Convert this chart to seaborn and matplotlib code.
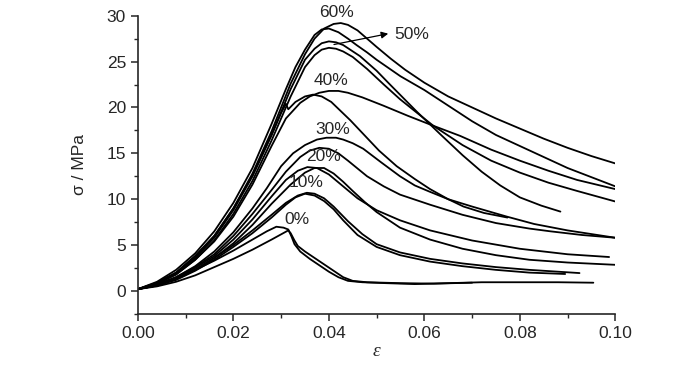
import matplotlib
matplotlib.use("Agg")
import matplotlib.pyplot as plt
from matplotlib.ticker import MultipleLocator
import seaborn as sns
import pandas as pd

# stress-strain curves, two per fibre content
eps_60a = [0, .004, .008, .012, .016, .020, .024, .028, .032, .035, .037, .039, .041, .0425, .044, .046, .048, .050, .053, .056, .060, .065, .070, .075, .080, .085, .090, .095, .100]
sig_60a = [0.2, 0.9, 2.0, 3.8, 6.0, 9.0, 12.8, 17.4, 22.6, 25.8, 27.5, 28.6, 29.1, 29.2, 29.0, 28.4, 27.5, 26.6, 25.3, 24.1, 22.7, 21.2, 20.0, 18.8, 17.7, 16.6, 15.6, 14.7, 13.9]

eps_60b = [0, .004, .008, .012, .016, .020, .024, .028, .031, .033, .035, .037, .0385, .040, .042, .044, .0458, .048, .050, .055, .060, .065, .070, .075, .080, .085, .090, .095, .100]
sig_60b = [0.2, 1.0, 2.3, 4.1, 6.5, 9.6, 13.4, 18.2, 22.0, 24.4, 26.3, 27.9, 28.5, 28.6, 28.2, 27.5, 26.8, 26.0, 25.2, 23.4, 21.9, 20.2, 18.5, 17.0, 15.8, 14.6, 13.4, 12.4, 11.4]

eps_50a = [0, .004, .008, .012, .016, .020, .024, .028, .032, .035, .037, .0385, .040, .0415, .043, .0465, .050, .0528, .0585, .0633, .068, .072, .0759, .080, .0845, .0885]
sig_50a = [0.2, 0.8, 1.9, 3.6, 5.8, 8.8, 12.5, 17.0, 22.0, 25.2, 26.4, 27.0, 27.2, 27.1, 26.8, 25.6, 24.0, 22.5, 19.5, 17.1, 14.8, 13.0, 11.5, 10.2, 9.3, 8.65]

eps_50b = [0, .004, .008, .012, .016, .020, .024, .028, .032, .035, .037, .0385, .040, .0415, .043, .045, .048, .0515, .0549, .0585, .0619, .068, .074, .080, .086, .092, .100]
sig_50b = [0.2, 0.8, 1.8, 3.4, 5.5, 8.4, 12.0, 16.4, 21.2, 24.4, 25.7, 26.3, 26.5, 26.4, 26.1, 25.5, 24.2, 22.5, 20.9, 19.4, 18.0, 15.9, 14.2, 12.9, 11.8, 10.9, 9.75]

eps_40a = [0, .004, .008, .012, .016, .020, .024, .028, .031, .034, .036, .038, .040, .042, .044, .047, .0514, .0565, .0619, .0675, .074, .080, .086, .092, .100]
sig_40a = [0.2, 0.8, 1.8, 3.4, 5.4, 8.1, 11.6, 15.8, 18.8, 20.5, 21.2, 21.6, 21.8, 21.8, 21.6, 21.1, 20.2, 19.1, 18.0, 16.9, 15.4, 14.2, 13.1, 12.1, 11.1]

eps_40b = [0, .004, .008, .012, .016, .020, .024, .028, .030, .031, .0315, .033, .035, .0367, .0385, .0405, .0425, .0445, .0465, .0505, .0542, .0580, .0612, .0650, .0682, .0725, .0774]
sig_40b = [0.2, 0.9, 2.0, 3.8, 6.0, 9.0, 12.6, 17.0, 19.4, 20.4, 19.8, 20.6, 21.2, 21.4, 21.2, 20.6, 19.6, 18.6, 17.5, 15.3, 13.6, 12.2, 11.1, 10.0, 9.2, 8.5, 8.0]

eps_30a = [0, .004, .008, .012, .016, .020, .024, .027, .030, .0325, .035, .0375, .0395, .0415, .043, .045, .0472, .051, .0549, .058, .0612, .065, .070, .0773, .083, .090, .095, .100]
sig_30a = [0.2, 0.7, 1.5, 2.7, 4.3, 6.4, 9.0, 11.2, 13.6, 15.0, 15.9, 16.5, 16.7, 16.7, 16.5, 16.1, 15.5, 14.0, 12.5, 11.5, 10.8, 10.0, 9.2, 8.1, 7.3, 6.6, 6.2, 5.8]

eps_30b = [0, .004, .008, .012, .016, .020, .024, .028, .031, .034, .036, .038, .040, .042, .044, .048, .0515, .0549, .0612, .068, .075, .082, .0864, .093, .100]
sig_30b = [0.2, 0.7, 1.5, 2.6, 4.0, 6.0, 8.4, 11.0, 13.0, 14.6, 15.3, 15.6, 15.5, 15.0, 14.2, 12.5, 11.4, 10.5, 9.4, 8.3, 7.4, 6.8, 6.5, 6.1, 5.8]

eps_20a = [0, .004, .008, .012, .016, .020, .024, .028, .031, .0335, .0355, .0375, .040, .043, .046, .050, .0549, .0612, .070, .080, .090, .0987]
sig_20a = [0.2, 0.6, 1.4, 2.5, 3.8, 5.6, 7.8, 10.3, 12.1, 13.1, 13.5, 13.4, 12.7, 11.4, 10.1, 8.8, 7.7, 6.6, 5.5, 4.6, 4.0, 3.7]

eps_20b = [0, .004, .008, .012, .016, .020, .024, .028, .032, .035, .037, .039, .041, .043, .045, .0475, .050, .0549, .0612, .068, .075, .082, .090, .100]
sig_20b = [0.2, 0.6, 1.3, 2.3, 3.6, 5.2, 7.2, 9.5, 11.6, 12.9, 13.4, 13.4, 12.8, 11.9, 10.9, 9.7, 8.6, 6.9, 5.6, 4.6, 3.9, 3.4, 3.1, 2.85]

eps_10a = [0, .004, .008, .012, .016, .020, .024, .028, .031, .0335, .0354, .037, .039, .041, .044, .047, .050, .0549, .0612, .068, .075, .082, .0925]
sig_10a = [0.2, 0.6, 1.3, 2.3, 3.6, 5.0, 6.6, 8.3, 9.6, 10.4, 10.7, 10.6, 10.1, 9.2, 7.6, 6.2, 5.1, 4.2, 3.5, 3.0, 2.6, 2.3, 1.95]

eps_10b = [0, .004, .008, .012, .016, .020, .024, .028, .031, .033, .035, .037, .039, .041, .043, .046, .050, .0549, .0612, .068, .075, .082, .0895]
sig_10b = [0.2, 0.6, 1.2, 2.2, 3.4, 4.8, 6.3, 8.0, 9.4, 10.2, 10.6, 10.4, 9.8, 8.9, 7.7, 6.1, 4.8, 3.9, 3.2, 2.7, 2.3, 2.0, 1.85]

eps_0a = [0, .004, .008, .012, .016, .020, .024, .027, .029, .0305, .0315, .0322, .0328, .034, .036, .038, .040, .042, .044, .047, .052, .058, .065, .072, .080, .088, .0954]
sig_0a = [0.2, 0.7, 1.4, 2.3, 3.3, 4.4, 5.6, 6.5, 7.0, 6.9, 6.7, 5.9, 5.1, 4.3, 3.5, 2.8, 2.1, 1.5, 1.1, 0.95, 0.85, 0.75, 0.85, 0.95, 0.95, 0.95, 0.9]

eps_0b = [0, .004, .008, .012, .016, .020, .024, .028, .0308, .0315, .032, .0328, .0335, .035, .037, .039, .041, .043, .045, .048, .055, .062, .070]
sig_0b = [0.2, 0.5, 1.0, 1.7, 2.6, 3.5, 4.5, 5.6, 6.4, 6.6, 6.3, 5.5, 4.9, 4.3, 3.6, 2.9, 2.2, 1.5, 1.1, 0.95, 0.85, 0.8, 0.9]

curves = {
    "60a": (eps_60a, sig_60a), "60b": (eps_60b, sig_60b),
    "50a": (eps_50a, sig_50a), "50b": (eps_50b, sig_50b),
    "40a": (eps_40a, sig_40a), "40b": (eps_40b, sig_40b),
    "30a": (eps_30a, sig_30a), "30b": (eps_30b, sig_30b),
    "20a": (eps_20a, sig_20a), "20b": (eps_20b, sig_20b),
    "10a": (eps_10a, sig_10a), "10b": (eps_10b, sig_10b),
    "0a": (eps_0a, sig_0a), "0b": (eps_0b, sig_0b),
}

labels = ["0%", "10%", "20%", "30%", "40%", "60%"]
label_eps = [0.0333, 0.0352, 0.0388, 0.0409, 0.0405, 0.0417]
label_sig = [7.8, 11.8, 14.6, 17.6, 22.9, 30.4]

rows = []
for name, (e, s) in curves.items():
    for x, y in zip(e, s):
        rows.append({"eps": x, "sigma": y, "curve": name})
df = pd.DataFrame(rows)

sns.set_style("ticks")
plt.rcParams["font.family"] = ["Liberation Sans", "DejaVu Sans"]

fig = plt.figure(figsize=(7, 3.65), dpi=100)
ax = fig.add_axes([0.197, 0.14, 0.682, 0.817])

sns.lineplot(data=df, x="eps", y="sigma", units="curve", estimator=None,
             sort=False, color="black", linewidth=1.3, ax=ax)

for t, x, y in zip(labels, label_eps, label_sig):
    ax.text(x, y, t, fontsize=12.5, ha="center", va="center", clip_on=False)

# 50% label with arrow
ax.annotate("", xy=(0.0530, 28.1), xytext=(0.0405, 26.8),
            arrowprops=dict(arrowstyle="-|>", color="black", lw=0.9,
                            mutation_scale=10))
ax.text(0.0537, 28.0, "50%", fontsize=12.5, ha="left", va="center")

ax.set_xlim(0, 0.10)
ax.set_ylim(-2.5, 30)
ax.xaxis.set_major_locator(MultipleLocator(0.02))
ax.xaxis.set_minor_locator(MultipleLocator(0.01))
ax.yaxis.set_major_locator(MultipleLocator(5))
ax.yaxis.set_minor_locator(MultipleLocator(2.5))
ax.set_xticklabels([f"{v:.2f}" for v in ax.get_xticks()])
ax.tick_params(which="major", length=5, width=1.1, labelsize=12.5, direction="out")
ax.tick_params(which="minor", length=3, width=1.0, direction="out")
for sp in ["left", "bottom"]:
    ax.spines[sp].set_linewidth(1.2)
sns.despine(ax=ax)

ax.set_xlabel("ε", fontsize=14, fontstyle="italic", family="Liberation Serif", labelpad=2)
ax.set_ylabel("σ / MPa", fontsize=12.5, labelpad=14)

fig.savefig("out.png", dpi=100)
